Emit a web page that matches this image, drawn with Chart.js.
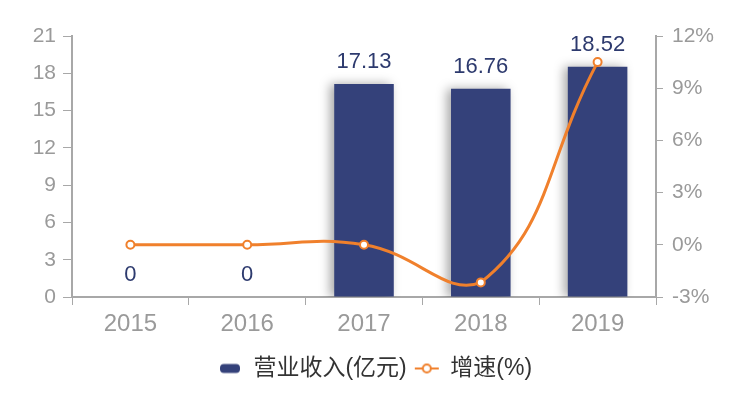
<!DOCTYPE html>
<html>
<head>
<meta charset="utf-8">
<script src="https://cdn.jsdelivr.net/npm/chart.js@4"></script>
<style>
  body { margin: 0; background: #fff; }
</style>
</head>
<body>
<canvas id="chart" width="750" height="396"></canvas>
<script>
const years = ['2015', '2016', '2017', '2018', '2019'];
const revenue = [0, 0, 17.13, 16.76, 18.52];
const growth = [0, 0, 0, -2.16, 10.5];
const leftTicks = [0, 3, 6, 9, 12, 15, 18, 21];
const rightTicks = [-3, 0, 3, 6, 9, 12];

const navy = '#34417a';
const orange = '#f0802c';
const axisGray = '#a8a8a8';
const labelGray = '#9a9a9a';
const fontFamily = '"Liberation Sans", "Noto Sans CJK SC", sans-serif';

// little legend markers drawn on canvases
function barMarker() {
    const c = document.createElement('canvas');
    c.width = 22; c.height = 12;
    const g = c.getContext('2d');
    g.fillStyle = navy;
    g.beginPath();
    g.roundRect(1, 1.5, 20, 9, 4);
    g.fill();
    return c;
}
function lineMarker() {
    const c = document.createElement('canvas');
    c.width = 26; c.height = 12;
    const g = c.getContext('2d');
    g.strokeStyle = orange;
    g.lineWidth = 2;
    g.beginPath();
    g.moveTo(1, 6); g.lineTo(25, 6);
    g.stroke();
    g.fillStyle = '#fff';
    g.beginPath();
    g.arc(13, 6, 4, 0, Math.PI * 2);
    g.fill();
    g.stroke();
    return c;
}

// shadow on the bars
const barShadow = {
    id: 'barShadow',
    beforeDatasetDraw(chart, args) {
        if (args.index === 0) {
            const ctx = chart.ctx;
            ctx.save();
            ctx.shadowColor = 'rgba(0,0,0,0.35)';
            ctx.shadowBlur = 10;
            ctx.shadowOffsetX = -4;
        }
    },
    afterDatasetDraw(chart, args) {
        if (args.index === 0) chart.ctx.restore();
    }
};

// values above bars
const barValues = {
    id: 'barValues',
    afterDatasetsDraw(chart) {
        const ctx = chart.ctx;
        const meta = chart.getDatasetMeta(0);
        ctx.save();
        ctx.fillStyle = '#2d3a6e';
        ctx.font = '22px ' + fontFamily;
        ctx.textAlign = 'center';
        ctx.textBaseline = 'alphabetic';
        meta.data.forEach((bar, i) => {
            ctx.fillText(String(revenue[i]), bar.x, bar.y - 16);
        });
        ctx.restore();
    }
};

const ctx = document.getElementById('chart').getContext('2d');
new Chart(ctx, {
    data: {
        labels: years,
        datasets: [
            {
                type: 'bar',
                label: '营业收入(亿元)',
                data: revenue,
                yAxisID: 'y',
                backgroundColor: navy,
                barPercentage: 0.51,
                categoryPercentage: 1,
                order: 2
            },
            {
                type: 'line',
                label: '增速(%)',
                data: growth,
                yAxisID: 'y1',
                borderColor: orange,
                borderWidth: 3,
                tension: 0.45,
                pointRadius: 4,
                pointBorderWidth: 2,
                pointBackgroundColor: '#fff',
                pointBorderColor: orange,
                order: 1
            }
        ]
    },
    options: {
        responsive: false,
        animation: false,
        layout: { padding: { top: 36, left: 0, right: 0, bottom: 6 } },
        plugins: {
            tooltip: { enabled: false },
            legend: {
                position: 'bottom',
                labels: {
                    usePointStyle: true,
                    pointStyleWidth: 24,
                    color: '#333',
                    padding: 8,
                    font: { size: 23, family: fontFamily },
                    generateLabels(chart) {
                        return chart.data.datasets.map((ds, i) => ({
                            text: ds.label,
                            datasetIndex: i,
                            pointStyle: i === 0 ? barMarker() : lineMarker(),
                            fontColor: '#333',
                            lineWidth: 0,
                            hidden: false
                        }));
                    }
                }
            }
        },
        scales: {
            x: {
                afterFit(axis) { axis.height = 52; },
                grid: { display: true, drawOnChartArea: false, tickLength: 8, color: axisGray, offset: true },
                border: { color: axisGray, width: 2 },
                ticks: { color: labelGray, font: { size: 24, family: fontFamily }, padding: 5 }
            },
            y: {
                position: 'left',
                min: 0,
                max: 21,
                afterBuildTicks(axis) { axis.ticks = leftTicks.map(v => ({ value: v })); },
                afterFit(axis) { axis.width = 72; },
                grid: { drawOnChartArea: false, tickLength: 9, color: axisGray },
                border: { color: axisGray, width: 2 },
                ticks: { color: labelGray, font: { size: 21, family: fontFamily }, padding: 7 }
            },
            y1: {
                position: 'right',
                min: -3,
                max: 12,
                afterBuildTicks(axis) { axis.ticks = rightTicks.map(v => ({ value: v })); },
                afterFit(axis) { axis.width = 94; },
                grid: { drawOnChartArea: false, tickLength: 7, color: axisGray },
                border: { color: axisGray, width: 2 },
                ticks: {
                    color: labelGray,
                    font: { size: 21, family: fontFamily },
                    padding: 9,
                    callback: v => v + '%'
                }
            }
        }
    },
    plugins: [barShadow, barValues]
});
</script>
</body>
</html>
